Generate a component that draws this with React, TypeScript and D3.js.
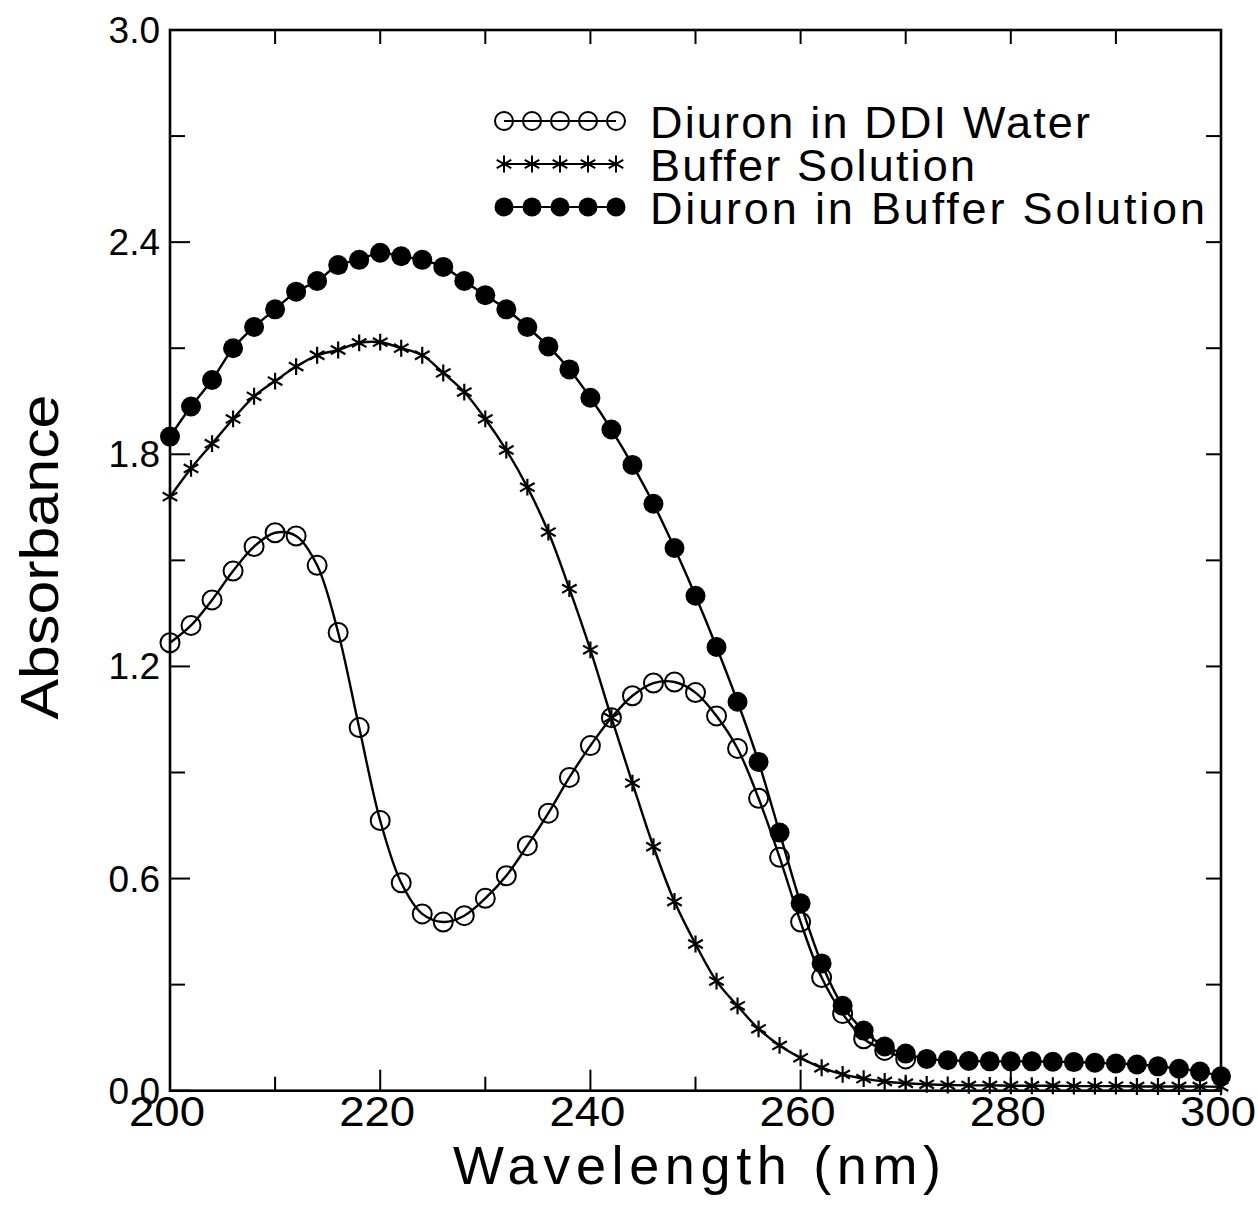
import React from 'react';
import * as d3 from 'd3';

// ---- data ----
const wlFull = [200,202,204,206,208,210,212,214,216,218,220,222,224,226,228,230,232,234,236,238,240,242,244,246,248,250,252,254,256,258,260,262,264,266,268,270,272,274,276,278,280,282,284,286,288,290,292,294,296,298,300];
const wlWater = [200,202,204,206,208,210,212,214,216,218,220,222,224,226,228,230,232,234,236,238,240,242,244,246,248,250,252,254,256,258,260,262,264,266,268,270];

const diuronWater = [1.267,1.316,1.388,1.47,1.539,1.578,1.569,1.486,1.296,1.027,0.764,0.588,0.50,0.477,0.495,0.544,0.608,0.693,0.785,0.886,0.976,1.055,1.117,1.153,1.156,1.126,1.06,0.968,0.827,0.66,0.477,0.32,0.218,0.147,0.114,0.09];
const bufferSolution = [1.68,1.76,1.83,1.90,1.964,2.007,2.048,2.08,2.095,2.115,2.117,2.10,2.08,2.03,1.976,1.90,1.812,1.707,1.58,1.42,1.247,1.055,0.87,0.69,0.535,0.415,0.31,0.24,0.175,0.128,0.093,0.065,0.046,0.034,0.026,0.021,0.018,0.016,0.015,0.015,0.014,0.014,0.014,0.013,0.013,0.013,0.012,0.012,0.012,0.012,0.011];
const diuronBuffer = [1.85,1.935,2.01,2.10,2.16,2.21,2.26,2.29,2.335,2.35,2.37,2.36,2.35,2.33,2.29,2.25,2.21,2.16,2.105,2.04,1.96,1.87,1.77,1.66,1.535,1.40,1.255,1.10,0.93,0.73,0.53,0.36,0.24,0.17,0.125,0.105,0.09,0.086,0.084,0.083,0.083,0.083,0.082,0.081,0.079,0.077,0.074,0.069,0.062,0.054,0.041];

const xTickLabels = [200,220,240,260,280,300];
const xMinorTicks = [210,230,250,270,290];
const yTickLabels = [0.0,0.6,1.2,1.8,2.4,3.0];
const yMinorTicks = [0.3,0.9,1.5,2.1,2.7];
const legendLabels = ['Diuron  in  DDI  Water','Buffer  Solution','Diuron  in  Buffer  Solution'];

const W = 1259, H = 1205;
const left = 170, right = 1221, top = 30, bottom = 1090.7;

export default function App() {
  const x = d3.scaleLinear().domain([200, 300]).range([left, right]);
  const y = d3.scaleLinear().domain([0, 3]).range([bottom, top]);
  const line = d3.line<[number, number]>().x(d => x(d[0])).y(d => y(d[1])).curve(d3.curveCatmullRom.alpha(0.5));

  const water: [number, number][] = wlWater.map((w, i) => [w, diuronWater[i]]);
  const buf: [number, number][] = wlFull.map((w, i) => [w, bufferSolution[i]]);
  const dbuf: [number, number][] = wlFull.map((w, i) => [w, diuronBuffer[i]]);

  const star = d3.symbol(d3.symbolAsterisk, 200)() as string;
  const font = 'Liberation Sans, Arial, sans-serif';
  const sw = 2.4;
  const R = 9.5;

  const legendY = [121, 164, 207];
  const legendX = [504, 532, 560, 588, 616];
  const legendTextLen = [440, 325, 555];

  return (
    <svg width={W} height={H} style={{ position: 'absolute', left: 0, top: 0, background: '#fff' }} xmlns="http://www.w3.org/2000/svg">
      <rect x={0} y={0} width={W} height={H} fill="#fff" />
      {/* frame */}
      <rect x={left} y={top} width={right - left} height={bottom - top} fill="none" stroke="#000" strokeWidth={2.6} />
      {/* bottom ticks */}
      {xTickLabels.map(t => <line key={'xb' + t} x1={x(t)} x2={x(t)} y1={bottom} y2={bottom - 21} stroke="#000" strokeWidth={2} />)}
      {xMinorTicks.map(t => <line key={'xbm' + t} x1={x(t)} x2={x(t)} y1={bottom} y2={bottom - 14} stroke="#000" strokeWidth={2} />)}
      {/* top ticks */}
      {[...xTickLabels, ...xMinorTicks].map(t => <line key={'xt' + t} x1={x(t)} x2={x(t)} y1={top} y2={top + 14} stroke="#000" strokeWidth={2} />)}
      {/* left ticks */}
      {yTickLabels.map(t => <line key={'yl' + t} x1={left} x2={left + 20} y1={y(t)} y2={y(t)} stroke="#000" strokeWidth={2} />)}
      {yMinorTicks.map(t => <line key={'ylm' + t} x1={left} x2={left + 15} y1={y(t)} y2={y(t)} stroke="#000" strokeWidth={2} />)}
      {/* right ticks */}
      {[...yTickLabels, ...yMinorTicks].map(t => <line key={'yr' + t} x1={right} x2={right - 15} y1={y(t)} y2={y(t)} stroke="#000" strokeWidth={2} />)}

      {/* tick labels */}
      {xTickLabels.map(t => (
        <text key={'xl' + t} x={x(t) - 3} y={1126} textAnchor="middle" fontFamily={font} fontSize={42} textLength={76} lengthAdjust="spacingAndGlyphs" fill="#000">{t}</text>
      ))}
      {yTickLabels.map(t => (
        <text key={'ylab' + t} x={160} y={y(t) + 13} textAnchor="end" fontFamily={font} fontSize={37} fill="#000">{t.toFixed(1)}</text>
      ))}

      {/* axis titles */}
      <text x={697} y={1184} textAnchor="middle" fontFamily={font} fontSize={54} textLength={488} lengthAdjust="spacing" fill="#000">Wavelength  (nm)</text>
      <text transform={`translate(58,557) rotate(-90)`} textAnchor="middle" fontFamily={font} fontSize={54} textLength={325} lengthAdjust="spacingAndGlyphs" fill="#000">Absorbance</text>

      {/* series lines */}
      <path d={line(water) || ''} fill="none" stroke="#000" strokeWidth={sw} />
      <path d={line(buf) || ''} fill="none" stroke="#000" strokeWidth={sw} />
      <path d={line(dbuf) || ''} fill="none" stroke="#000" strokeWidth={sw} />

      {/* markers */}
      {water.map((d, i) => <circle key={'w' + i} cx={x(d[0])} cy={y(d[1])} r={R} fill="none" stroke="#000" strokeWidth={2} />)}
      {buf.map((d, i) => <path key={'b' + i} d={star} transform={`translate(${x(d[0])},${y(d[1])})`} fill="none" stroke="#000" strokeWidth={2.2} />)}
      {dbuf.map((d, i) => <circle key={'d' + i} cx={x(d[0])} cy={y(d[1])} r={R + 0.5} fill="#000" />)}

      {/* legend */}
      {legendLabels.map((lab, k) => (
        <g key={'lg' + k}>
          <line x1={legendX[0]} x2={legendX[legendX.length - 1]} y1={legendY[k]} y2={legendY[k]} stroke="#000" strokeWidth={2} />
          {legendX.map((lx, j) => (
            k === 0 ? <circle key={j} cx={lx} cy={legendY[k]} r={9} fill="none" stroke="#000" strokeWidth={2} /> :
            k === 1 ? <path key={j} d={star} transform={`translate(${lx},${legendY[k]})`} fill="none" stroke="#000" strokeWidth={2} /> :
            <circle key={j} cx={lx} cy={legendY[k]} r={9.5} fill="#000" />
          ))}
          <text x={650} y={legendY[k] + 17} fontFamily={font} fontSize={45} textLength={legendTextLen[k]} lengthAdjust="spacing" fill="#000">{lab}</text>
        </g>
      ))}
    </svg>
  );
}
